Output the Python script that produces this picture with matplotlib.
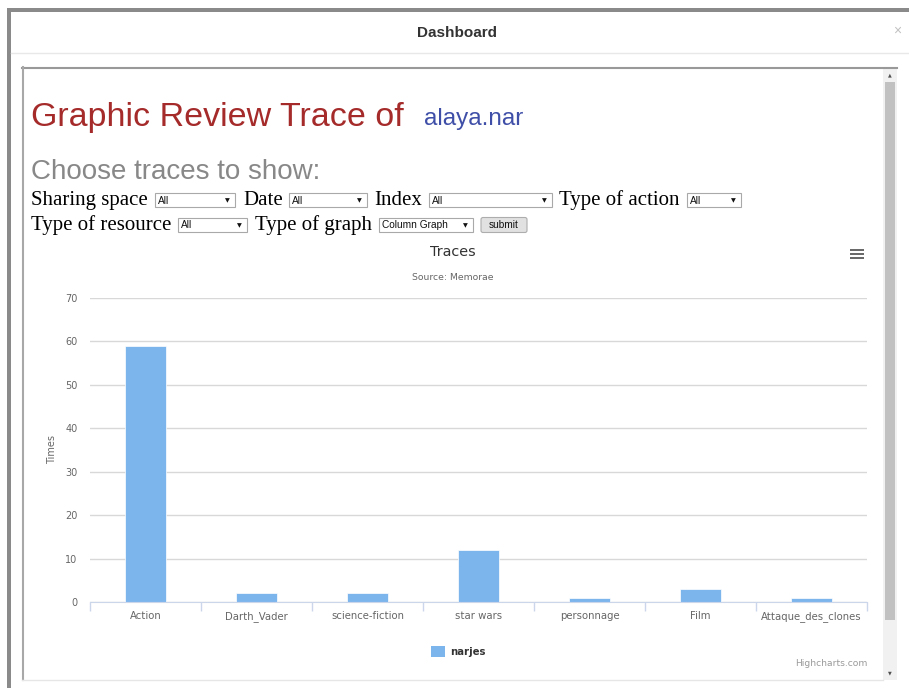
import matplotlib
matplotlib.use("Agg")
import matplotlib.pyplot as plt
from matplotlib.patches import Rectangle, FancyBboxPatch

# chart data
categories = ["Action", "Darth_Vader", "science-fiction", "star wars",
              "personnage", "Film", "Attaque_des_clones"]
times = [59, 2, 2, 12, 1, 3, 1]
yticks = [0, 10, 20, 30, 40, 50, 60, 70]
series_name = "narjes"

W, H = 909, 688
SANS = ["Liberation Sans", "DejaVu Sans"]
SERIF = ["Liberation Serif", "DejaVu Serif"]
HC = ["DejaVu Sans"]

fig = plt.figure(figsize=(W / 100, H / 100), dpi=100)

# page background in pixel coords (y down)
bg = fig.add_axes([0, 0, 1, 1])
bg.set_xlim(0, W)
bg.set_ylim(H, 0)
bg.axis("off")
bg.set_zorder(1)

# modal frame
bg.add_patch(Rectangle((7, 8), W - 7, 4, color="#8a8a8a", lw=0))
bg.add_patch(Rectangle((7, 8), 4, H - 8, color="#8a8a8a", lw=0))
bg.plot([11, W], [53, 53], color="#e8e8e8", lw=1)
bg.text(457, 33, "Dashboard", family=SANS, fontsize=11, weight="bold",
        color="#333333", ha="center", va="center")
bg.text(897, 31, "\u00d7", family=SANS, fontsize=10, color="#c0c0c0",
        ha="center", va="center")

# inner frame
bg.plot([22, 897], [67.5, 67.5], color="#999999", lw=1.5)
bg.plot([22.5, 22.5], [67, 680], color="#a8a8a8", lw=1.5)
bg.plot([22, 883], [680, 680], color="#e6e6e6", lw=1)

# scrollbar
bg.add_patch(Rectangle((883, 69), 14, 611, color="#f1f1f1", lw=0))
bg.add_patch(Rectangle((885, 82), 10, 538, color="#c1c1c1", lw=0))
bg.text(890, 75, "\u25b2", family=HC, fontsize=3.5, color="#505050",
        ha="center", va="center")
bg.text(890, 673, "\u25bc", family=HC, fontsize=3.5, color="#505050",
        ha="center", va="center")

# headings
bg.text(31, 126, "Graphic Review Trace of", family=SANS, fontsize=24.5,
        color="#a52a2a", va="baseline")
bg.text(424, 125, "alaya.nar", family=SANS, fontsize=17.5,
        color="#3f4fa8", va="baseline")
bg.text(31, 179, "Choose traces to show:", family=SANS, fontsize=20,
        color="#888888", va="baseline")


def dropdown(x0, x1, yc, txt):
    bg.add_patch(Rectangle((x0, yc - 7), x1 - x0, 14, facecolor="white",
                           edgecolor="#a9a9a9", lw=0.8))
    bg.text(x0 + 3, yc + 0.5, txt, family=SANS, fontsize=7.3,
            color="#111111", va="center")
    bg.text(x1 - 8, yc + 0.5, "\u25bc", family=HC, fontsize=4.5,
            color="#111111", ha="center", va="center")


r1, r2 = 200, 225
for x, lab in [(31, "Sharing space"), (243, "Date"), (374, "Index"),
               (559, "Type of action")]:
    bg.text(x, r1 + 5, lab, family=SERIF, fontsize=15, color="black",
            va="baseline")
for x, lab in [(31, "Type of resource"), (255, "Type of graph")]:
    bg.text(x, r2 + 5, lab, family=SERIF, fontsize=15, color="black",
            va="baseline")

dropdown(155, 235, r1, "All")
dropdown(289, 367, r1, "All")
dropdown(429, 552, r1, "All")
dropdown(687, 741, r1, "All")
dropdown(178, 247, r2, "All")
dropdown(379, 473, r2, "Column Graph")

bg.add_patch(FancyBboxPatch((481, r2 - 7.5), 46, 15,
                            boxstyle="round,pad=0,rounding_size=2",
                            facecolor="#e1e1e1", edgecolor="#adadad", lw=0.8))
bg.text(504, r2 + 0.5, "submit", family=SANS, fontsize=7.3, color="#111111",
        ha="center", va="center")

# chart titles and bits
bg.text(453, 252, "Traces", family=HC, fontsize=10.4, color="#333333",
        ha="center", va="center")
bg.text(453, 278, "Source: Memorae", family=HC, fontsize=6.7,
        color="#666666", ha="center", va="center")
for yy in (250, 254, 258):
    bg.plot([850, 864], [yy, yy], color="#666666", lw=1.4,
            solid_capstyle="butt")
bg.text(52, 450, "Times", family=HC, fontsize=7, color="#666666",
        rotation=90, ha="center", va="center")
bg.add_patch(Rectangle((431, 646), 14, 11, color="#7cb5ec", lw=0))
bg.text(450, 652, series_name, family=HC, fontsize=7.3, weight="bold",
        color="#333333", va="center")
bg.text(867, 663, "Highcharts.com", family=HC, fontsize=6.6,
        color="#999999", ha="right", va="center")

# the column chart itself
left, right, top, bottom = 90, 867, 298, 602
ax = fig.add_axes([left / W, (H - bottom) / H, (right - left) / W,
                   (bottom - top) / H])
ax.set_zorder(2)
ax.patch.set_alpha(0)

xs = list(range(len(categories)))
ax.bar(xs, times, width=0.37, color="#7cb5ec", edgecolor="white", lw=0.5,
       zorder=3)
ax.set_xlim(-0.5, len(categories) - 0.5)
ax.set_ylim(0, 70)
ax.set_yticks(yticks)
ax.set_yticklabels([str(v) for v in yticks], family=HC, fontsize=7,
                   color="#666666")
ax.set_xticks([i - 0.5 for i in range(len(categories) + 1)], minor=True)
ax.tick_params(axis="y", length=0, pad=9)
ax.tick_params(axis="x", which="major", length=0, pad=12.2)
ax.tick_params(axis="x", which="minor", length=6.5, width=1,
               color="#ccd6eb", direction="out")
ax.set_xticks(xs)
ax.set_xticklabels(categories, family=HC, fontsize=7.3, color="#666666",
                   va="baseline")
ax.grid(axis="y", color="#d8d8d8", lw=1, zorder=0)
ax.set_axisbelow(True)
for s in ("top", "right", "left"):
    ax.spines[s].set_visible(False)
ax.spines["bottom"].set_color("#ccd6eb")
ax.spines["bottom"].set_zorder(4)

fig.savefig("out.png", dpi=100)
